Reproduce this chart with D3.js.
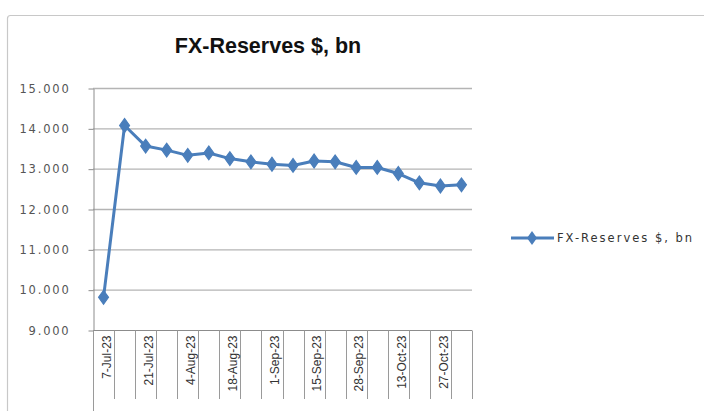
<!DOCTYPE html>
<html>
<head>
<meta charset="utf-8">
<script src="https://cdn.jsdelivr.net/npm/d3@7"></script>
<style>
  body { margin: 0; background: #fff; }
  svg { display: block; }
</style>
</head>
<body>
<div id="chart"></div>
<script>
// weekly observations
const categories = ["7-Jul-23", "14-Jul-23", "21-Jul-23", "28-Jul-23", "4-Aug-23", "11-Aug-23",
  "18-Aug-23", "25-Aug-23", "1-Sep-23", "8-Sep-23", "15-Sep-23", "22-Sep-23",
  "28-Sep-23", "6-Oct-23", "13-Oct-23", "20-Oct-23", "27-Oct-23", "3-Nov-23"];
const reserves = [9810, 14070, 13560, 13460, 13330, 13390, 13250, 13170, 13110,
  13080, 13190, 13170, 13030, 13030, 12880, 12650, 12570, 12600];
const yTicks = [9000, 10000, 11000, 12000, 13000, 14000, 15000];
const seriesName = "FX-Reserves $, bn";

const W = 704, H = 411;
const margin = { top: 88, left: 93, right: 232, bottom: 81 };
const lineColor = "#4a7ebb";

const svg = d3.select("#chart").append("svg")
  .attr("width", W)
  .attr("height", H);

// chart area frame (runs off right and bottom)
svg.append("rect")
  .attr("x", 7.5).attr("y", 15.5)
  .attr("width", 760).attr("height", 460)
  .attr("rx", 3)
  .attr("fill", "#fff")
  .attr("stroke", "#c8c8c8")
  .attr("stroke-width", 1.2);

svg.append("text")
  .attr("x", 268).attr("y", 53)
  .attr("text-anchor", "middle")
  .attr("font-family", "Liberation Sans, Arial, sans-serif")
  .attr("font-weight", "bold")
  .attr("font-size", "21.5px")
  .attr("fill", "#111")
  .text(seriesName);

let x = d3.scaleBand()
  .domain(categories)
  .range([margin.left, W - margin.right])
  .padding(0);

let y = d3.scaleLinear()
  .domain([9000, 15000])
  .range([H - margin.bottom, margin.top]);

// 15000 -> "15.000"
const yFmt = d => d3.format(",")(d).replace(",", ".");

// gridlines
svg.append("g")
  .selectAll("line")
  .data(yTicks.slice(1))
  .enter()
  .append("line")
  .attr("x1", margin.left).attr("x2", W - margin.right)
  .attr("y1", d => y(d) + 0.5).attr("y2", d => y(d) + 0.5)
  .attr("stroke", "#b4b4b4")
  .attr("stroke-width", 1.3);

// y axis
let yAxis = d3.axisLeft(y).tickValues(yTicks).tickSize(5).tickSizeOuter(0).tickPadding(18).tickFormat(yFmt);
let gy = svg.append("g")
  .attr("transform", "translate(" + (margin.left + 0.5) + ",0.5)")
  .call(yAxis);
gy.select(".domain").attr("stroke", "#8c8c8c");
gy.selectAll(".tick line").attr("stroke", "#8c8c8c");
gy.selectAll(".tick text")
  .attr("font-family", "DejaVu Sans, sans-serif")
  .attr("font-size", "11.5px")
  .attr("letter-spacing", "1.8px")
  .attr("fill", "#555");

// x axis baseline
const y0 = y(9000) + 0.5;
svg.append("line")
  .attr("x1", margin.left).attr("x2", W - margin.right)
  .attr("y1", y0).attr("y2", y0)
  .attr("stroke", "#8c8c8c");

// category boundaries, extended down through the label area
const bounds = categories.map(c => x(c)).concat([x.range()[1]]);
svg.append("g")
  .selectAll("line")
  .data(bounds)
  .enter()
  .append("line")
  .attr("x1", d => Math.round(d) + 0.5).attr("x2", d => Math.round(d) + 0.5)
  .attr("y1", y0).attr("y2", (d, i) => i === 0 ? H : 399)
  .attr("stroke", "#9a9a9a");

// x labels, every second category
let xAxis = d3.axisBottom(x).tickSize(0).tickFormat((d, i) => i % 2 === 0 ? d : "");
let gx = svg.append("g")
  .attr("transform", "translate(0," + y0 + ")")
  .call(xAxis);
gx.select(".domain").remove();
gx.selectAll(".tick text")
  .attr("font-family", "Liberation Sans Narrow, Liberation Sans, Arial, sans-serif")
  .attr("font-size", "12px")
  .attr("fill", "#333")
  .attr("text-anchor", "end")
  .attr("transform", "translate(3,5) rotate(-90)")
  .attr("x", 0).attr("y", 0).attr("dy", "0.35em");

// series line
let line = d3.line()
  .x((d, i) => x(categories[i]) + x.bandwidth() / 2)
  .y(d => y(d));

svg.append("path")
  .datum(reserves)
  .attr("d", line)
  .attr("fill", "none")
  .attr("stroke", lineColor)
  .attr("stroke-width", 3)
  .attr("stroke-linejoin", "round");

const diamond = d3.symbol().type(d3.symbolDiamond).size(55);
svg.append("g")
  .selectAll("path")
  .data(reserves)
  .enter()
  .append("path")
  .attr("d", diamond)
  .attr("transform", (d, i) => "translate(" + (x(categories[i]) + x.bandwidth() / 2) + "," + y(d) + ") scale(1.25,1)")
  .attr("fill", lineColor)
  .attr("stroke", lineColor)
  .attr("stroke-width", 1);

// legend
let lg = svg.append("g").attr("transform", "translate(511,238)");
lg.append("line")
  .attr("x1", 0).attr("x2", 43)
  .attr("stroke", lineColor).attr("stroke-width", 3);
lg.append("path")
  .attr("d", diamond)
  .attr("transform", "translate(21,0) scale(1.25,1)")
  .attr("fill", lineColor);
lg.append("text")
  .attr("x", 46).attr("dy", "0.35em")
  .attr("font-family", "DejaVu Sans, sans-serif")
  .attr("font-size", "11.5px")
  .attr("letter-spacing", "2px")
  .attr("fill", "#333")
  .text(seriesName);
</script>
</body>
</html>
